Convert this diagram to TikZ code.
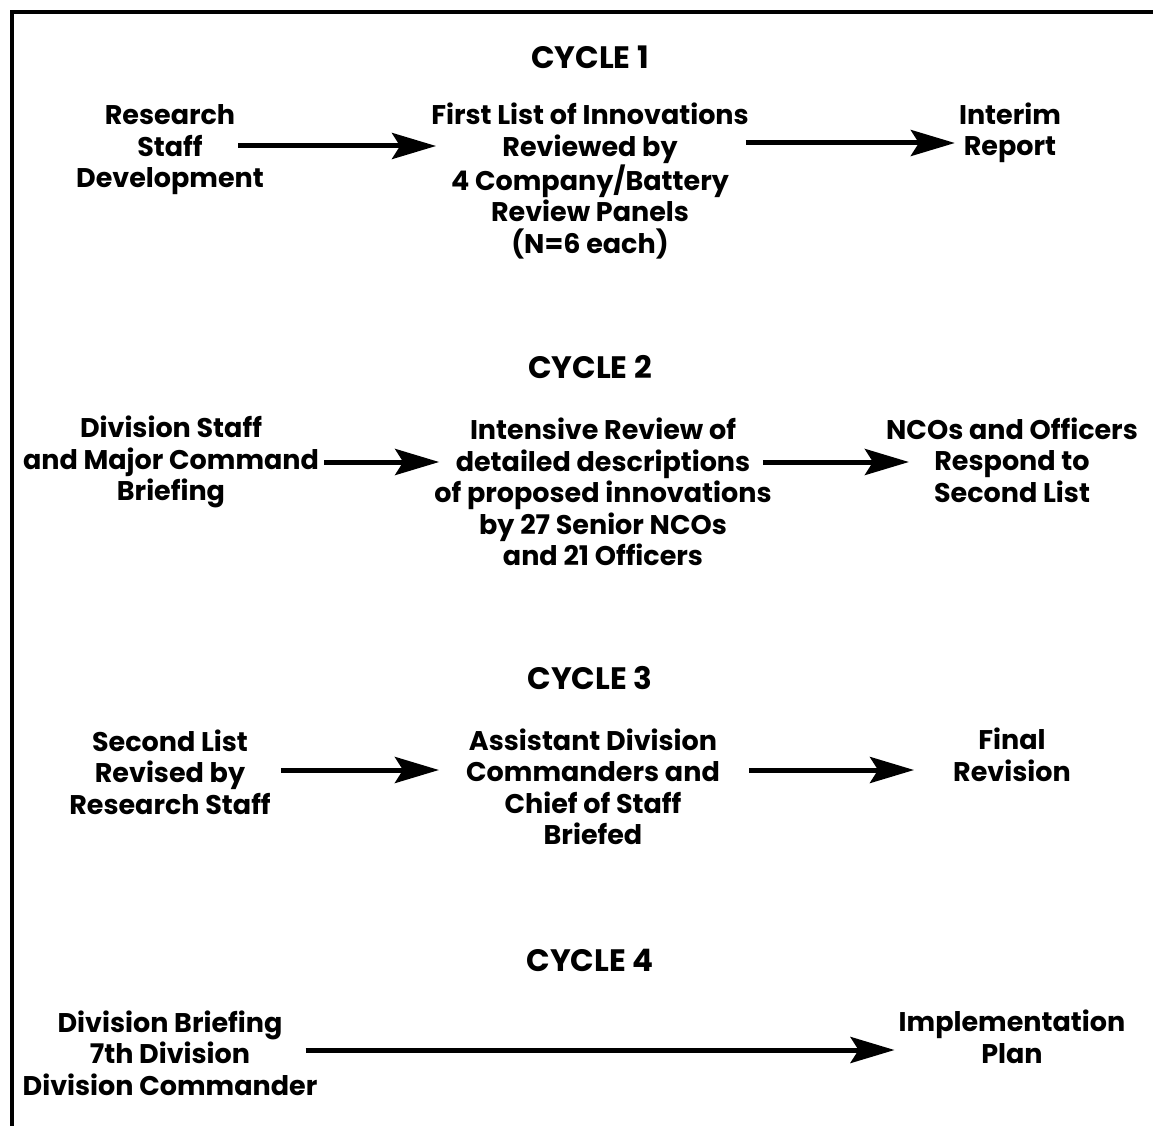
\documentclass[tikz,border=0pt]{standalone}
\usepackage{fontspec}
\setmainfont{Poppins}
\usetikzlibrary{arrows.meta}
\begin{document}
\begin{tikzpicture}[x=1pt,y=-1pt,
  txt/.style={align=center,font=\fontsize{27}{31.5}\selectfont\bfseries,inner sep=0pt},
  ttl/.style={font=\fontsize{31}{31.5}\selectfont\bfseries,inner sep=0pt},
  arr/.style={line width=5pt,-{Stealth[length=44pt,width=26pt,inset=8pt]}},
  frame/.style={line width=4pt,line cap=rect}]
\useasboundingbox (0,0) rectangle (1153,1126);
\draw[frame] (1153,12) -- (12,12) -- (12,1126);

% Cycle 1
\node[ttl] (c1) at (590,57) {CYCLE 1};
\node[txt] (a1) at (170,150) {Research\\Staff\\Development};
\node[txt] (b1) at (590,181) {First List of Innovations\\Reviewed by\\4 Company/Battery\\Review Panels\\(N=6 each)};
\node[txt] (d1) at (1010,133) {Interim\\Report};
\draw[arr] ([xshift=-26pt]a1.east |- 0,146) -- ([xshift=5pt]b1.west |- 0,146);
\draw[arr] ([xshift=-3pt]b1.east |- 0,143) -- ([xshift=-4pt]d1.west |- 0,143);

% Cycle 2
\node[ttl] (c2) at (590,367) {CYCLE 2};
\node[txt] (a2) at (171,462) {Division Staff\\and Major Command\\Briefing};
\node[txt] (b2) at (603,492) {Intensive Review of\\detailed descriptions\\of proposed innovations\\by 27 Senior NCOs\\and 21 Officers};
\node[txt] (d2) at (1012,460) {NCOs and Officers\\Respond to\\Second List};
\draw[arr] ([xshift=5pt]a2.east |- 0,462) -- ([xshift=5pt]b2.west |- 0,462);
\draw[arr] ([xshift=-9pt]b2.east |- 0,462) -- ([xshift=23pt]d2.west |- 0,462);

% Cycle 3
\node[ttl] (c3) at (590,678) {CYCLE 3};
\node[txt] (a3) at (170,772) {Second List\\Revised by\\Research Staff};
\node[txt] (b3) at (593,787) {Assistant Division\\Commanders and\\Chief of Staff\\Briefed};
\node[txt] (d3) at (1012,755) {Final\\Revision};
\draw[arr] ([xshift=10pt]a3.east |- 0,770) -- ([xshift=-27pt]b3.west |- 0,770);
\draw[arr] ([xshift=29pt]b3.east |- 0,770) -- ([xshift=-39pt]d3.west |- 0,770);

% Cycle 4
\node[ttl] (c4) at (590,960) {CYCLE 4};
\node[txt] (a4) at (170,1053) {Division Briefing\\7th Division\\Division Commander};
\node[txt] (d4) at (1012,1037) {Implementation\\Plan};
\draw[arr] ([xshift=-12pt]a4.east |- 0,1050) -- ([xshift=-4pt]d4.west |- 0,1050);
\end{tikzpicture}
\end{document}
